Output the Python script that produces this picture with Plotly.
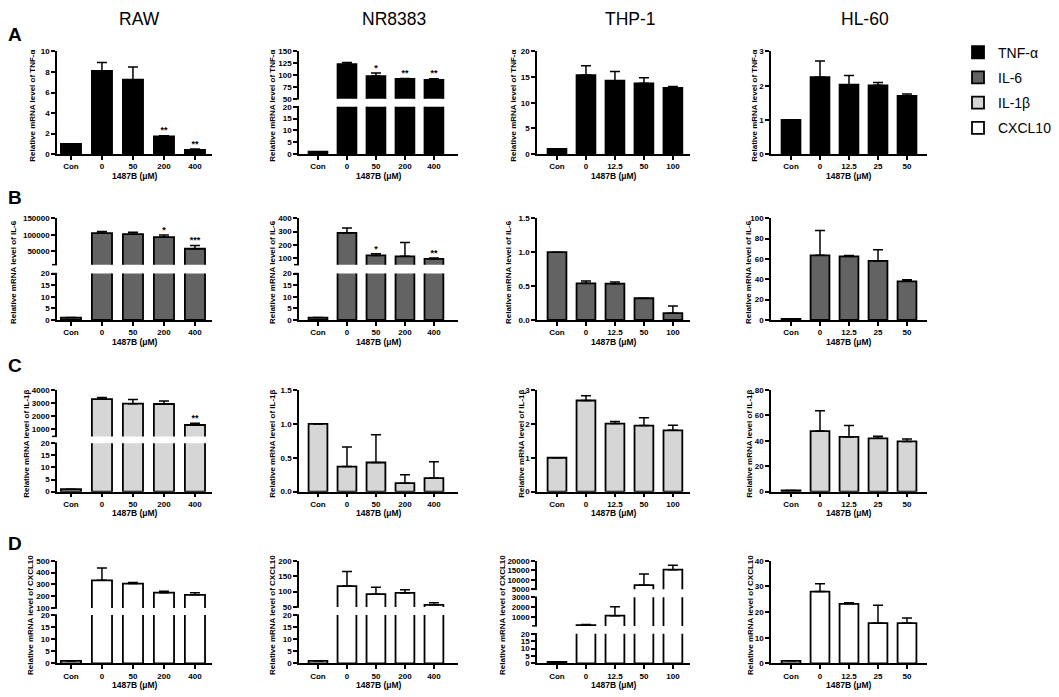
import plotly.graph_objects as go

# target picture size; the page puts the figure 8px in from the corner
W, H = 1059, 697
OFF = 8
FW, FH = W - OFF, H - OFF

# x categories per cell line
raw_doses = ["Con", "0", "50", "200", "400"]
nr_doses = ["Con", "0", "50", "200", "400"]
thp_doses = ["Con", "0", "12.5", "50", "100"]
hl_doses = ["Con", "0", "12.5", "25", "50"]

cells = ["RAW", "NR8383", "THP-1", "HL-60"]
genes = ["TNF-α", "IL-6", "IL-1β", "CXCL10"]
row_letters = ["A", "B", "C", "D"]

# row A - TNF-α
raw_tnf = [1.0, 8.1, 7.25, 1.72, 0.42]
raw_tnf_err = [0, 0.82, 1.25, 0.08, 0.07]
raw_tnf_sig = ["", "", "", "**", "**"]
nr_tnf = [1.0, 123, 98, 92, 90]
nr_tnf_err = [0, 4, 6.5, 1.2, 2.5]
nr_tnf_sig = ["", "", "*", "**", "**"]
thp_tnf = [1.0, 15.4, 14.3, 13.8, 12.9]
thp_tnf_err = [0, 1.8, 1.8, 1.1, 0.3]
hl_tnf = [1.0, 2.25, 2.03, 2.01, 1.7]
hl_tnf_err = [0, 0.47, 0.27, 0.08, 0.06]

# row B - IL-6
raw_il6 = [1.0, 105000, 102000, 93000, 58000]
raw_il6_err = [0, 4800, 5500, 6800, 9500]
raw_il6_sig = ["", "", "", "*", "***"]
nr_il6 = [1.0, 290, 120, 113, 93]
nr_il6_err = [0, 37, 12, 105, 7]
nr_il6_sig = ["", "", "*", "", "**"]
thp_il6 = [1.0, 0.54, 0.535, 0.32, 0.1]
thp_il6_err = [0, 0.035, 0.025, 0, 0.105]
hl_il6 = [1.0, 63.5, 62.5, 58, 38]
hl_il6_err = [0, 24.5, 0.8, 11, 1.5]

# row C - IL-1β
raw_il1b = [1.0, 3300, 2950, 2930, 1320]
raw_il1b_err = [0, 120, 320, 220, 130]
raw_il1b_sig = ["", "", "", "", "**"]
nr_il1b = [1.0, 0.37, 0.43, 0.125, 0.2]
nr_il1b_err = [0, 0.29, 0.41, 0.125, 0.24]
thp_il1b = [1.0, 2.69, 2.01, 1.95, 1.81]
thp_il1b_err = [0, 0.14, 0.06, 0.23, 0.15]
hl_il1b = [1.0, 47.7, 43.1, 42, 39.5]
hl_il1b_err = [0, 16, 9, 1.6, 2]

# row D - CXCL10
raw_cxcl = [1.0, 335, 307, 230, 212]
raw_cxcl_err = [0, 103, 10, 12, 18]
nr_cxcl = [1.0, 118, 92, 96, 57]
nr_cxcl_err = [0, 47, 22, 10, 7]
thp_cxcl = [1.0, 170, 1130, 7200, 15300]
thp_cxcl_err = [0, 60, 900, 5800, 2300]
hl_cxcl = [1.0, 28, 23.2, 15.7, 15.7]
hl_cxcl_err = [0, 3, 0.4, 7, 2]

gene_colors = ["#000000", "#636363", "#d6d6d6", "#ffffff"]

FONT = "Liberation Sans, Arial, sans-serif"


def px(x):
    return (x - OFF) / FW


def py(y):
    return 1 - (y - OFF) / FH


# pixel layout of the grid: column -> (axis left, axis right, x range)
col_x = [
    (57, 212, [-0.45, 4.55]),
    (299, 458, [-0.655, 4.83]),
    (537, 690, [-0.69, 4.59]),
    (771, 927, [-0.69, 4.69]),
]
row_letter_y = [31, 196, 366, 547]
col_title_x = [139, 394, 630, 865]
ytitle_x = [
    [33, 273, 514, 755],
    [13, 272, 508, 748],
    [27, 273, 522, 750],
    [30, 272, 502, 750],
]

T20 = [0, 5, 10, 15, 20]

# y segments (top px, bottom px, range, tick values, format); top segment first
segments = {
    (0, 0): [(48, 152, [0, 10], [0, 2, 4, 6, 8, 10], "d")],
    (0, 1): [(48, 96, [50, 150], [50, 75, 100, 125, 150], "d"),
             (104, 152, [0, 20], T20, "d")],
    (0, 2): [(48, 152, [0, 20], T20, "d")],
    (0, 3): [(48, 152, [0, 3], [0, 1, 2, 3], "d")],
    (1, 0): [(217, 264, [10000, 150000], [50000, 100000, 150000], "d"),
             (273, 320, [0, 20], T20, "d")],
    (1, 1): [(217, 264, [50, 400], [100, 200, 300, 400], "d"),
             (273, 320, [0, 20], T20, "d")],
    (1, 2): [(217, 320, [0, 1.5], [0, 0.5, 1, 1.5], ".1f")],
    (1, 3): [(217, 320, [0, 100], [0, 20, 40, 60, 80, 100], "d")],
    (2, 0): [(391, 438, [450, 4000], [1000, 2000, 3000, 4000], "d"),
             (445, 494, [0, 20], T20, "d")],
    (2, 1): [(391, 494, [0, 1.5], [0, 0.5, 1, 1.5], ".1f")],
    (2, 2): [(391, 494, [0, 3], [0, 1, 2, 3], "d")],
    (2, 3): [(391, 494, [0, 80], [0, 20, 40, 60, 80], "d")],
    (3, 0): [(564, 612, [100, 500], [100, 200, 300, 400, 500], "d"),
             (619, 668, [0, 20], T20, "d")],
    (3, 1): [(564, 611, [50, 200], [50, 100, 150, 200], "d"),
             (619, 668, [0, 20], T20, "d")],
    (3, 2): [(564, 593, [5000, 20000], [5000, 10000, 15000, 20000], "d"),
             (601, 630, [100, 3000], [1000, 2000, 3000], "d"),
             (638, 668, [0, 20], T20, "d")],
    (3, 3): [(564, 668, [0, 40], [0, 10, 20, 30, 40], "d")],
}

doses = [raw_doses, nr_doses, thp_doses, hl_doses]
data = [
    [(raw_tnf, raw_tnf_err, raw_tnf_sig), (nr_tnf, nr_tnf_err, nr_tnf_sig),
     (thp_tnf, thp_tnf_err, None), (hl_tnf, hl_tnf_err, None)],
    [(raw_il6, raw_il6_err, raw_il6_sig), (nr_il6, nr_il6_err, nr_il6_sig),
     (thp_il6, thp_il6_err, None), (hl_il6, hl_il6_err, None)],
    [(raw_il1b, raw_il1b_err, raw_il1b_sig), (nr_il1b, nr_il1b_err, None),
     (thp_il1b, thp_il1b_err, None), (hl_il1b, hl_il1b_err, None)],
    [(raw_cxcl, raw_cxcl_err, None), (nr_cxcl, nr_cxcl_err, None),
     (thp_cxcl, thp_cxcl_err, None), (hl_cxcl, hl_cxcl_err, None)],
]

tick_font = dict(family=FONT, size=8, color="black", weight="bold")
traces = []
layout = {}
annotations = []
shapes = []
n = 0

for r in range(4):
    for c in range(4):
        vals, errs, sig = data[r][c]
        x0, x1, xr = col_x[c]
        segs = segments[(r, c)]
        for i, (top, bot, yr, tv, fmt) in enumerate(segs):
            n += 1
            sfx = "" if n == 1 else str(n)
            is_bottom = i == len(segs) - 1
            xa = dict(domain=[px(x0), px(x1)], range=xr, anchor="y" + sfx,
                      showgrid=False, zeroline=False, fixedrange=True)
            if is_bottom:
                xa.update(showline=True, linecolor="black", linewidth=1.5,
                          ticks="outside", ticklen=4, tickwidth=1.5,
                          tickcolor="black", tickfont=tick_font)
            else:
                xa.update(visible=False)
            ya = dict(domain=[py(bot), py(top)], range=yr,
                      anchor="x" + sfx, tickvals=tv, tickformat=fmt,
                      showline=True, linecolor="black", linewidth=1.5,
                      ticks="outside", ticklen=4, tickwidth=1.5,
                      tickcolor="black", tickfont=tick_font,
                      ticklabeloverflow="allow",
                      showgrid=False, zeroline=False, fixedrange=True)
            layout["xaxis" + sfx] = xa
            layout["yaxis" + sfx] = ya

            traces.append(go.Bar(
                x=doses[c], y=vals, width=0.65,
                xaxis="x" + sfx, yaxis="y" + sfx,
                marker=dict(color=gene_colors[r],
                            line=dict(color="black", width=1.8)),
                error_y=dict(type="data", array=errs, arrayminus=[0] * len(errs),
                             symmetric=False, color="black", thickness=1.5,
                             width=5),
                name=genes[r], legendgroup=genes[r],
                showlegend=(c == 0 and is_bottom),
                hoverinfo="skip",
            ))
            if i == 0 and sig is not None:
                traces.append(go.Scatter(
                    x=doses[c], y=[v + e for v, e in zip(vals, errs)],
                    text=sig, mode="text", textposition="top center",
                    textfont=dict(family=FONT, size=9, color="black",
                                  weight="bold"),
                    xaxis="x" + sfx, yaxis="y" + sfx, showlegend=False,
                    cliponaxis=False, hoverinfo="skip",
                ))
            # break marks on the y axis
            if len(segs) > 1:
                w_px = x1 - x0
                if not is_bottom:
                    shapes.append(dict(type="line", xref="x" + sfx + " domain",
                                       yref="y" + sfx + " domain",
                                       x0=0, x1=-5 / w_px, y0=0, y1=0,
                                       line=dict(color="black", width=1.5)))
                if i > 0:
                    shapes.append(dict(type="line", xref="x" + sfx + " domain",
                                       yref="y" + sfx + " domain",
                                       x0=0, x1=-5 / w_px, y0=1, y1=1,
                                       line=dict(color="black", width=1.5)))

        top_all = segs[0][0]
        bot_all = segs[-1][1]
        annotations.append(dict(
            text="Relative mRNA level of " + genes[r],
            x=px(ytitle_x[r][c]), y=py((top_all + bot_all) / 2 + 3),
            xanchor="center", yanchor="middle",
            xref="paper", yref="paper", textangle=-90, showarrow=False,
            font=dict(family=FONT, size=8, color="black", weight="bold")))
        annotations.append(dict(
            text="1487B (μM)", x=px((x0 + x1) / 2), y=py(bot_all + 22),
            xanchor="center", yanchor="middle",
            xref="paper", yref="paper", showarrow=False,
            font=dict(family=FONT, size=8.5, color="black", weight="bold")))

for c, name in enumerate(cells):
    annotations.append(dict(text=name, x=px(col_title_x[c]), y=py(15),
                            xanchor="center", yanchor="middle",
                            xref="paper", yref="paper", showarrow=False,
                            font=dict(family=FONT, size=17.5, color="black")))
for r, letter in enumerate(row_letters):
    annotations.append(dict(text=letter, x=px(15), y=py(row_letter_y[r]),
                            xanchor="center", yanchor="middle",
                            xref="paper", yref="paper", showarrow=False,
                            font=dict(family=FONT, size=19, color="black",
                                      weight="bold")))

fig = go.Figure(data=traces)
fig.update_layout(layout)
fig.update_layout(
    width=FW, height=FH, autosize=False,
    margin=dict(l=0, r=0, t=0, b=0),
    paper_bgcolor="white", plot_bgcolor="white",
    annotations=annotations, shapes=shapes,
    legend=dict(x=px(958), y=py(33), xanchor="left", yanchor="top",
                font=dict(family=FONT, size=14, color="black"),
                tracegroupgap=4, traceorder="grouped",
                bgcolor="rgba(0,0,0,0)"),
)

fig.write_html("out.html")
